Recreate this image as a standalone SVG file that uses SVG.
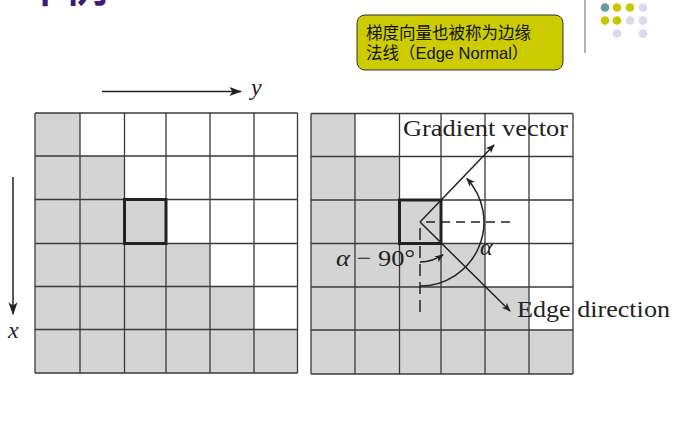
<svg xmlns="http://www.w3.org/2000/svg" width="685" height="427" viewBox="0 0 685 427">
<defs>
<marker id="ah" viewBox="0 0 10 10" refX="9" refY="5" markerWidth="9" markerHeight="9" markerUnits="userSpaceOnUse" orient="auto"><path d="M0,1 L10,5 L0,9 L2.5,5 Z" fill="#222"/></marker>
<marker id="ahl" viewBox="0 0 10 10" refX="9" refY="5" markerWidth="13" markerHeight="13" markerUnits="userSpaceOnUse" orient="auto"><path d="M0,1.5 L10,5 L0,8.5 L2.5,5 Z" fill="#222"/></marker>
</defs>
<style>
.gray{fill:#d4d4d4;stroke:none}
.grid{stroke:#3a3a3a;stroke-width:1.3;fill:none}
.bold{stroke:#222;stroke-width:3;fill:none}
.ln{stroke:#222;stroke-width:1.5;fill:none}
.dash{stroke:#222;stroke-width:1.5;fill:none;stroke-dasharray:9 6}
.serif{font-family:"Liberation Serif","Times New Roman",serif;fill:#222}
.it{font-style:italic}
.cjk{font-family:"Liberation Sans","Noto Sans CJK SC",sans-serif;font-size:16.5px;fill:#111}
</style>
<rect width="685" height="427" fill="#fff"/>
<g id="title"><text x="24" y="1.5" font-family="'Noto Sans CJK SC',sans-serif" font-size="42" font-weight="bold" fill="#3d1a78">举例</text></g>
<g id="decor">
<line x1="585" y1="0" x2="585" y2="53" stroke="#888" stroke-width="1.3"/>
<circle cx="605" cy="7.5" r="4.3" fill="#6a9a9a"/><circle cx="617" cy="7.5" r="4.3" fill="#c9c800"/><circle cx="630" cy="7.5" r="4.3" fill="#c9c800"/><circle cx="643" cy="7.5" r="4.3" fill="#d9d9ed"/>
<circle cx="605" cy="20.5" r="4.3" fill="#c9c800"/><circle cx="617" cy="20.5" r="4.3" fill="#c9c800"/><circle cx="630" cy="20.5" r="4.3" fill="#d9d9ed"/><circle cx="643" cy="20.5" r="4.3" fill="#d9d9ed"/>
<circle cx="617" cy="33.5" r="4.3" fill="#d9d9ed"/><circle cx="643" cy="33.5" r="4.3" fill="#d9d9ed"/>
</g>
<g id="note">
<rect x="357" y="15" width="206" height="55" rx="8" ry="8" fill="#cccc00" stroke="#333" stroke-width="1"/>
<text class="cjk" x="366" y="39">梯度向量也被称为边缘</text>
<text class="cjk" x="366" y="59">法线（Edge Normal）</text>
</g>
<g id="left-grid">
<polygon class="gray" points="35,113 80,113 80,156 124.5,156 124.5,199.5 166,199.5 166,243.5 210,243.5 210,286.5 254,286.5 254,329.5 297.5,329.5 297.5,373 35,373"/>
<path class="grid" d="M35,113H297.5M35,156H297.5M35,199.5H297.5M35,243.5H297.5M35,286.5H297.5M35,329.5H297.5M35,373H297.5M35,113V373M80,113V373M124.5,113V373M166,113V373M210,113V373M254,113V373M297.5,113V373"/>
<rect class="bold" x="124.5" y="199.5" width="41.5" height="44"/>
</g>
<g id="right-grid">
<polygon class="gray" points="311,113.5 355,113.5 355,156.5 399.5,156.5 399.5,200 441,200 441,243.5 485,243.5 485,287 529,287 529,330 573,330 573,374 311,374"/>
<path class="grid" d="M311,113.5H573M311,156.5H573M311,200H573M311,243.5H573M311,287H573M311,330H573M311,374H573M311,113.5V374M355,113.5V374M399.5,113.5V374M441,113.5V374M485,113.5V374M529,113.5V374M573,113.5V374"/>
<rect class="bold" x="399.5" y="200" width="41.5" height="43.5"/>
</g>
<g id="connectors">
<line class="ln" x1="102" y1="91.5" x2="241" y2="91.5" marker-end="url(#ahl)"/>
<line class="ln" x1="13" y1="177" x2="13" y2="314" marker-end="url(#ahl)"/>
<line class="dash" x1="426" y1="222" x2="513" y2="222"/>
<line class="dash" x1="420" y1="228" x2="420" y2="317" style="stroke-dasharray:12 6"/>
<line class="ln" x1="420" y1="222" x2="494" y2="145" marker-end="url(#ah)"/>
<line class="ln" x1="420" y1="222" x2="510" y2="311" marker-end="url(#ah)"/>
<path class="ln" d="M420,286 A64,64 0 0 0 466.8,178.4" marker-end="url(#ah)"/>
<path class="ln" d="M420,262 A40,40 0 0 0 443,254.7" marker-end="url(#ah)"/>
</g>
<g id="labels">
<text class="serif it" x="251" y="95" font-size="24">y</text>
<text class="serif it" x="8" y="338" font-size="24">x</text>
<text class="serif" x="403" y="136" font-size="24" textLength="165" lengthAdjust="spacingAndGlyphs">Gradient vector</text>
<text class="serif" x="517" y="317" font-size="24" textLength="153" lengthAdjust="spacingAndGlyphs">Edge direction</text>
<text class="serif it" x="480" y="255" font-size="24">α</text>
<text class="serif" x="336" y="266" font-size="24" textLength="79" lengthAdjust="spacingAndGlyphs"><tspan font-style="italic">α</tspan> − 90°</text>
</g>
</svg>
